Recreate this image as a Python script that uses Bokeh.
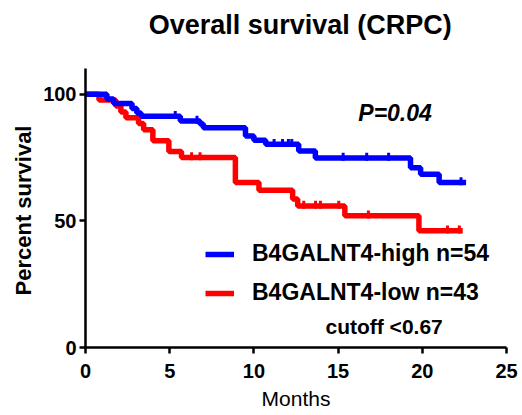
import numpy as np
from bokeh.plotting import figure
from bokeh.models import Range1d, FixedTicker, Label, Legend, LegendItem, Title
from bokeh.embed import file_html
from bokeh.resources import INLINE

# Kaplan-Meier step data (months, percent survival)
high_t = [0, 1.27, 1.67, 2.76, 3.05, 3.3, 5.63, 6.8, 7.0, 9.5, 10.0, 10.7, 12.66, 13.65, 19.3, 19.9, 21.0, 22.6]
high_s = [100, 98.1, 96.3, 94.4, 92.6, 91.3, 89.4, 88.2, 86.8, 83.5, 81.8, 80.2, 77.6, 74.8, 71.0, 68.4, 65.1, 65.1]
high_censor = [5.33, 6.62, 11.2, 11.7, 12.05, 12.25, 15.3, 16.7, 18.0, 22.3]

low_t = [0, 0.8, 1.8, 2.1, 2.4, 3.15, 3.45, 4.0, 4.95, 5.7, 8.9, 10.3, 12.3, 12.6, 15.4, 19.8, 22.4]
low_s = [100, 97.7, 95.3, 93.0, 90.7, 88.4, 86.0, 81.6, 77.4, 75.0, 65.1, 62.1, 58.6, 55.9, 52.0, 46.1, 46.1]
low_censor = [6.3, 6.8, 12.96, 13.66, 13.95, 15.04, 16.8, 21.5, 22.2]

x_ticks = [0, 5, 10, 15, 20, 25]
y_ticks = [0, 50, 100]

title_text = "Overall survival (CRPC)"
y_title = "Percent survival"
x_title = "Months"
labels = ["B4GALNT4-high n=54", "B4GALNT4-low n=43"]
FONT = "Liberation Sans"


def step_at(ts, ss, q):
    ts = np.asarray(ts)
    ss = np.asarray(ss)
    idx = np.searchsorted(ts, q, side="right") - 1
    return ss[idx]


# frame spans the full height above the x axis; the y axis line is bounded to 0..110
p = figure(width=522, height=415, x_range=Range1d(0, 25), y_range=Range1d(0, 137),
           output_backend="svg", toolbar_location=None,
           min_border_left=85, min_border_right=16, min_border_top=0, min_border_bottom=68)

p.grid.visible = False
p.outline_line_color = None
p.background_fill_color = "white"

for ax in (p.xaxis[0], p.yaxis[0]):
    ax.axis_line_width = 2.5
    ax.axis_line_color = "black"
    ax.major_tick_line_width = 2.5
    ax.major_tick_line_color = "black"
    ax.major_tick_out = 6
    ax.major_tick_in = 0
    ax.minor_tick_line_color = None
    ax.major_label_text_font = FONT
    ax.major_label_text_font_size = "20px"
    ax.major_label_text_font_style = "bold"
    ax.major_label_text_color = "black"
    ax.axis_label_text_font = FONT
    ax.axis_label_text_color = "black"

p.yaxis.bounds = (0, 110)
p.xaxis.ticker = FixedTicker(ticks=x_ticks)
p.yaxis.ticker = FixedTicker(ticks=y_ticks)
p.xaxis.major_label_standoff = 10
p.yaxis.major_label_standoff = 3
p.xaxis.axis_label = x_title
p.xaxis.axis_label_text_font_size = "21px"
p.xaxis.axis_label_text_font_style = "normal"
p.xaxis.axis_label_standoff = 6

# y axis title, placed along the lower part of the left side
p.add_layout(Title(text=y_title, align="left", offset=52, text_font=FONT,
                   text_font_size="22px", text_font_style="bold", text_color="black",
                   standoff=9), "left")

red = "#ff0000"
blue = "#0000ff"

r_low = p.step(low_t, low_s, mode="after", line_width=5.5, line_color=red)
p.rect(x=low_censor, y=step_at(low_t, low_s, low_censor) + 0.5, width=3, height=8,
       width_units="screen", height_units="screen", fill_color=red, line_color=None)

r_high = p.step(high_t, high_s, mode="after", line_width=5.5, line_color=blue)
p.rect(x=high_censor, y=step_at(high_t, high_s, high_censor) + 0.5, width=3, height=8,
       width_units="screen", height_units="screen", fill_color=blue, line_color=None)

legend = Legend(items=[LegendItem(label=labels[0], renderers=[r_high]),
                       LegendItem(label=labels[1], renderers=[r_low])],
                location=(120, 41), glyph_width=29, glyph_height=26, label_height=26,
                label_standoff=18, spacing=12, padding=0, margin=0,
                border_line_alpha=0, background_fill_alpha=0,
                label_text_font=FONT, label_text_font_size="23px",
                label_text_font_style="bold", label_text_color="black")
p.add_layout(legend)

p.add_layout(Label(x=12.75, y=127.5, text=title_text, text_font=FONT, text_font_size="27px",
                   text_font_style="bold", text_color="black", text_align="center",
                   text_baseline="alphabetic"))
p.add_layout(Label(x=16.2, y=92.7, text="P=0.04", text_font=FONT, text_font_size="23px",
                   text_font_style="bold italic", text_color="black", text_baseline="alphabetic"))
p.add_layout(Label(x=14.25, y=8.2, text="cutoff <0.67", text_font=FONT, text_font_size="21px",
                   text_font_style="bold", text_color="black", text_baseline="alphabetic"))

open("out.html", "w").write(file_html(p, INLINE))
